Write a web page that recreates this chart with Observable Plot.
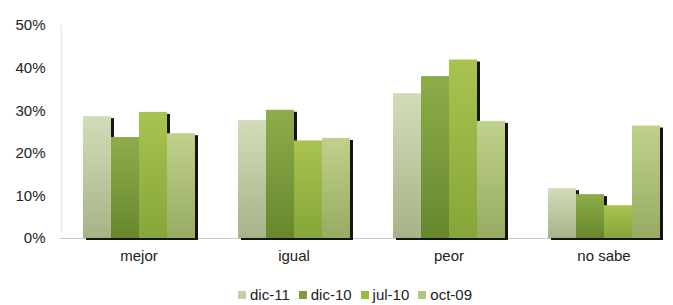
<!DOCTYPE html>
<html>
<head>
<meta charset="utf-8">
<script src="https://cdn.jsdelivr.net/npm/d3@7"></script>
<script src="https://cdn.jsdelivr.net/npm/@observablehq/plot@0.6"></script>
<style>
  html, body { margin: 0; padding: 0; background: #fff; }
  #chart { width: 673px; }
  #legend { width: 673px; display: flex; justify-content: center; margin-top: 2px; padding-left: 37px; box-sizing: border-box; }
  #legend div > span { margin-right: 9px !important; }
  #legend div > span:last-child { margin-right: 0 !important; }
  #legend div > span > svg { margin-right: 4px !important; }
</style>
</head>
<body>
<div id="chart"></div>
<div id="legend"></div>
<script>
const categories = ["mejor", "igual", "peor", "no sabe"];
const series = ["dic-11", "dic-10", "jul-10", "oct-09"];
const dic11 = [28.6, 27.7, 34.0, 11.7];
const dic10 = [23.7, 30.1, 38.0, 10.3];
const jul10 = [29.6, 22.9, 41.9, 7.7];
const oct09 = [24.6, 23.5, 27.5, 26.4];
const yTicks = [0, 10, 20, 30, 40, 50];

const seriesValues = [dic11, dic10, jul10, oct09];
const gradients = [
  ["#d3dcb9", "#a7b387"],
  ["#8dad4b", "#67872e"],
  ["#a9c34f", "#86a639"],
  ["#bfd18c", "#98ab62"]
];
const legendColors = ["#c5cda9", "#7f9c3f", "#9cba46", "#b2c57d"];
const gradientIds = series.map((s, i) => "grad" + i);

const data = [];
categories.forEach((c, ci) => {
  series.forEach((s, si) => {
    data.push({cat: c, series: s, value: seriesValues[si][ci]});
  });
});
const catRows = categories.map(c => ({cat: c}));

const font = "'Liberation Sans', Arial, Helvetica, sans-serif";

const plot = Plot.plot({
  width: 673,
  height: 276,
  marginTop: 25,
  marginBottom: 38,
  marginLeft: 58,
  marginRight: -11,
  style: {fontFamily: font, fontSize: "15px", color: "#222", background: "#fff"},
  fx: {domain: categories, paddingInner: 0.269, paddingOuter: 0.141, axis: null},
  x: {domain: series, padding: 0, axis: null},
  y: {domain: [0, 50], axis: null},
  color: {domain: series, range: gradientIds.map(id => `url(#${id})`)},
  marks: [
    // baseline: bridges the gaps between groups
    Plot.ruleY(catRows.slice(0, -1), {fx: "cat", y: 0, stroke: "#c8c8c8", strokeWidth: 1.2, insetLeft: -22, insetRight: -21}),
    Plot.ruleY(catRows.slice(-1), {fx: "cat", y: 0, stroke: "#c8c8c8", strokeWidth: 1.2, insetLeft: -22, insetRight: 0}),
    // vertical axis line, left of the first group
    Plot.ruleX(catRows.slice(0, 1), {fx: "cat", x: () => series[0], y1: 0, y2: 50, dx: -36.25, insetTop: -5, stroke: "#e2e2e2", strokeWidth: 1}),
    Plot.rectY(data, {fx: "cat", x: "series", y: "value", fill: "#151515", dx: 3, dy: 2}),
    Plot.rectY(data, {fx: "cat", x: "series", y: "value", fill: "series"}),
    Plot.axisY({ticks: yTicks, tickSize: 0, tickPadding: 37, tickFormat: d => d + "%", fontSize: 15, label: null, fill: "#222"}),
    Plot.axisFx({anchor: "bottom", tickSize: 0, tickPadding: 12, fontSize: 15, label: null, fill: "#222"})
  ]
});

// gradient definitions
const svg = d3.select(plot);
const defs = svg.insert("defs", ":first-child");
gradientIds.forEach((id, i) => {
  const g = defs.append("linearGradient").attr("id", id).attr("x1", 0).attr("y1", 0).attr("x2", 0).attr("y2", 1);
  g.append("stop").attr("offset", "0%").attr("stop-color", gradients[i][0]);
  g.append("stop").attr("offset", "100%").attr("stop-color", gradients[i][1]);
});

document.getElementById("chart").appendChild(plot);

const legend = Plot.legend({
  color: {type: "ordinal", domain: series, range: legendColors},
  swatchSize: 8,
  style: {fontFamily: font, fontSize: "15px", color: "#222"}
});
document.getElementById("legend").appendChild(legend);
</script>
</body>
</html>
